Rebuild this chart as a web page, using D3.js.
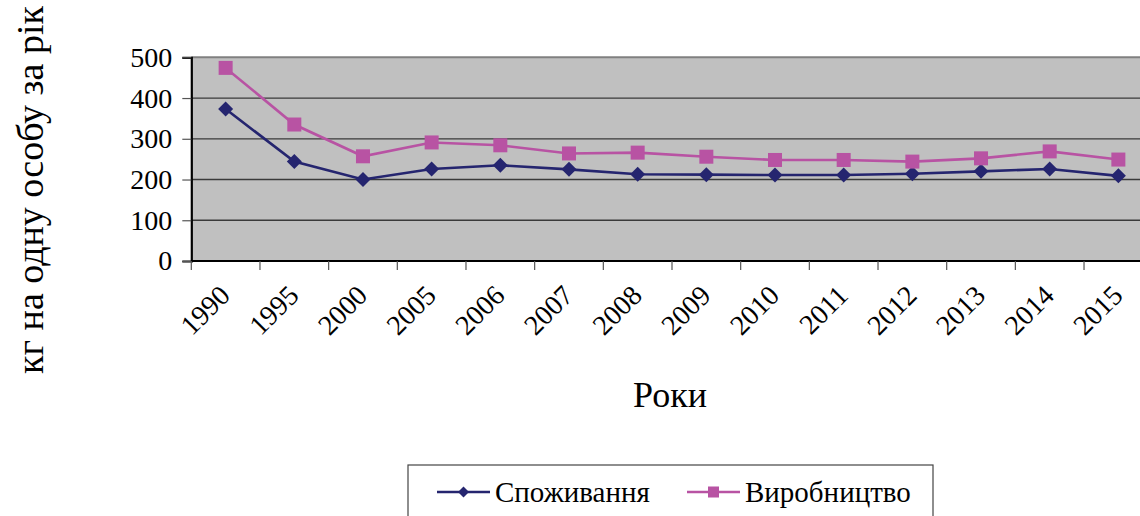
<!DOCTYPE html>
<html>
<head>
<meta charset="utf-8">
<script src="https://cdn.jsdelivr.net/npm/d3@7"></script>
<style>
  html, body { margin: 0; padding: 0; background: #fff; overflow: hidden; }
  svg { display: block; }
</style>
</head>
<body>
<svg id="chart" width="1140" height="516"></svg>
<script>
const years = ["1990","1995","2000","2005","2006","2007","2008","2009","2010","2011","2012","2013","2014","2015"];
const consumption = [373, 244, 200, 226, 235, 225, 213, 212, 211, 211, 214, 220, 226, 209];
const production  = [474, 335, 257, 291, 284, 264, 266, 256, 248, 248, 244, 252, 269, 249];
const yTicks = [0, 100, 200, 300, 400, 500];
const seriesNames = ["Споживання", "Виробництво"];
const yTitle = "кг на одну особу за рік";
const xTitle = "Роки";

const colors = ["#25256f", "#b853a3"];
const FONT = '"Liberation Serif"';

const svg = d3.select("#chart");
const plot = { left: 191.3, top: 57.3, right: 1152.7, bottom: 261 };

const x = d3.scaleBand().domain(years).range([plot.left, plot.right]).padding(0);
const y = d3.scaleLinear().domain([0, 500]).range([plot.bottom, plot.top]);
const cx = d => x(d) + x.bandwidth() / 2;

function diamond(r) {
  return `M0,${-r}L${r},0L0,${r}L${-r},0Z`;
}

// plot background
svg.append("rect")
  .attr("x", plot.left).attr("y", plot.top)
  .attr("width", plot.right - plot.left).attr("height", plot.bottom - plot.top)
  .attr("fill", "#c0c0c0");

// gridlines
svg.append("g").selectAll("line").data(yTicks.filter(d => d > 0)).join("line")
  .attr("x1", plot.left).attr("x2", plot.right)
  .attr("y1", d => y(d)).attr("y2", d => y(d))
  .attr("stroke", d => d === 500 ? "#808080" : "#3a3a3a")
  .attr("stroke-width", d => d === 500 ? 2 : 1.3);

// Y axis
const yAxis = d3.axisLeft(y).tickValues(yTicks).tickSize(9).tickPadding(10);
const gy = svg.append("g").attr("transform", `translate(${plot.left},0)`).call(yAxis);
gy.attr("font-family", null).attr("font-size", null);
gy.select(".domain").attr("stroke", "#000").attr("stroke-width", 2.2);
gy.selectAll(".tick line").attr("stroke", "#555").attr("stroke-width", 1.2);
gy.selectAll(".tick text").attr("fill", "#000")
  .style("font-family", FONT).style("font-size", "28px");

// X axis (ticks between categories)
const gx = svg.append("g").attr("transform", `translate(0,${plot.bottom})`);
gx.append("line").attr("x1", plot.left).attr("x2", plot.right)
  .attr("y1", 0).attr("y2", 0).attr("stroke", "#000").attr("stroke-width", 2.2);
const boundaries = years.map(d => x(d)).concat([plot.right]);
gx.selectAll("line.tk").data(boundaries).join("line").attr("class", "tk")
  .attr("x1", d => d).attr("x2", d => d).attr("y1", 0).attr("y2", 9)
  .attr("stroke", "#555").attr("stroke-width", 1.2);
gx.selectAll("text").data(years).join("text")
  .attr("transform", d => `translate(${cx(d) + 6},${36}) rotate(-45)`)
  .attr("text-anchor", "end")
  .attr("fill", "#000")
  .style("font-family", FONT).style("font-size", "28px")
  .text(d => d);

// lines
const line = d3.line().x((d, i) => cx(years[i])).y(d => y(d));
[consumption, production].forEach((s, k) => {
  svg.append("path").datum(s).attr("d", line)
    .attr("fill", "none").attr("stroke", colors[k]).attr("stroke-width", 2.6);
});

// markers
svg.append("g").selectAll("path").data(consumption).join("path")
  .attr("transform", (d, i) => `translate(${cx(years[i])},${y(d)})`)
  .attr("d", diamond(7.5))
  .attr("fill", colors[0]);
svg.append("g").selectAll("rect").data(production).join("rect")
  .attr("x", (d, i) => cx(years[i]) - 7)
  .attr("y", d => y(d) - 7)
  .attr("width", 14).attr("height", 14)
  .attr("fill", colors[1]);

// axis titles
svg.append("text")
  .attr("transform", `translate(43,${190}) rotate(-90)`)
  .attr("text-anchor", "middle").attr("fill", "#000")
  .style("font-family", FONT).style("font-size", "38px")
  .text(yTitle);
svg.append("text")
  .attr("x", 670).attr("y", 407)
  .attr("text-anchor", "middle").attr("fill", "#000")
  .style("font-family", FONT).style("font-size", "36px")
  .text(xTitle);

// legend
const lg = svg.append("g");
lg.append("rect").attr("x", 408).attr("y", 465).attr("width", 525).attr("height", 70)
  .attr("fill", "#fff").attr("stroke", "#444").attr("stroke-width", 1.2);
const legendItems = [
  { x1: 437, x2: 490, tx: 495 },
  { x1: 687, x2: 740, tx: 745 }
];
legendItems.forEach((it, k) => {
  const cy = 492;
  lg.append("line").attr("x1", it.x1).attr("x2", it.x2).attr("y1", cy).attr("y2", cy)
    .attr("stroke", colors[k]).attr("stroke-width", 2.6);
  const mx = (it.x1 + it.x2) / 2;
  if (k === 0) {
    lg.append("path").attr("transform", `translate(${mx},${cy})`)
      .attr("d", diamond(5.5)).attr("fill", colors[0]);
  } else {
    lg.append("rect").attr("x", mx - 5.5).attr("y", cy - 5.5).attr("width", 11).attr("height", 11)
      .attr("fill", colors[1]);
  }
  lg.append("text").attr("x", it.tx).attr("y", cy + 10)
    .attr("fill", "#000")
    .style("font-family", FONT).style("font-size", "29px")
    .text(seriesNames[k]);
});
</script>
</body>
</html>
